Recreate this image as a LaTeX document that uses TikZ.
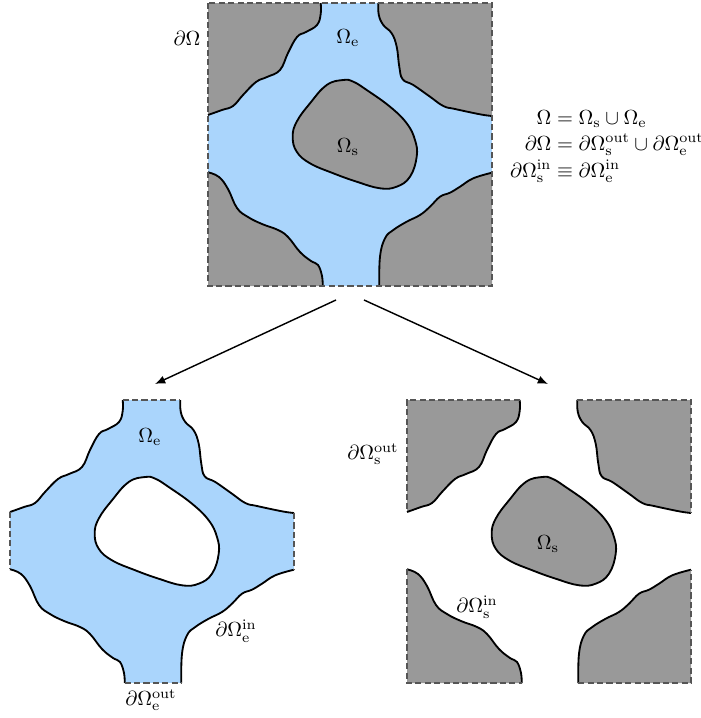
\documentclass[tikz,border=0pt]{standalone}
\usepackage{amsmath}
\usetikzlibrary{arrows.meta}
\definecolor{fluidc}{RGB}{170,213,252}
\definecolor{grainc}{RGB}{153,153,153}
\definecolor{bordc}{RGB}{85,85,85}
\newcommand\lTL{-- plot[smooth,tension=0.7] coordinates {(320.7,3) (320.7,14) (317,25) (306,32) (297,37) (288,53) (280,70) (267,77) (256,82) (243,95) (233,106) (222,110) (208,115)}}
\newcommand\lTR{-- plot[smooth,tension=0.7] coordinates {(378.3,3) (378.8,15) (383.3,25) (391.7,33.3) (396.7,46.7) (399.3,66.7) (402.7,79.3) (413.3,85) (430,96.7) (443.3,106) (455,109) (480,114.3) (492,116)}}
\newcommand\lBL{-- plot[smooth,tension=0.7] coordinates {(208,172.3) (219,177) (228,189) (237,208) (248,217) (262,224) (278,230) (288,237) (300,252) (311,261) (318,265) (322,276) (322.7,286)}}
\newcommand\lBR{-- plot[smooth,tension=0.7] coordinates {(379.3,286) (380,256.7) (385,238.3) (393.3,230) (406.7,221.7) (420,215) (430,206.7) (440,196.7) (450,192.7) (460,186.7) (473.3,178.3) (492,172.7)}}
\newcommand\lBlob{plot[smooth cycle,tension=0.7] coordinates {(343.3,80) (326.7,85) (310,103.3) (296.7,121.7) (292.7,136.7) (296.7,151.7) (310,163.3) (333.3,173.3) (356.7,181.7) (380,188.3) (396.7,186.7) (410,176.7) (416.7,156.7) (415,140) (406.7,123.3) (390,106.7) (366.7,90) (353.3,81.7)}}
\begin{document}
\begin{tikzpicture}[x=0.49pt,y=-0.49pt,
  outl/.style={line width=0.9pt,draw=black},
  bord/.style={line width=0.6pt,draw=bordc,dash pattern=on 3pt off 1.6pt},
  arr/.style={line width=0.7pt,-{Latex[length=5pt,width=4pt]}},
  lbl/.style={inner sep=0pt}]
\useasboundingbox (0,0) rectangle (701,718);
% ---------- top square ----------
\begin{scope}
  \fill[fluidc] (208,3) rectangle (492,286);
  \fill[grainc] (208,3) \lTL -- cycle;
  \fill[grainc] (492,3) \lTR -- cycle;
  \fill[grainc] (208,286) \lBL -- cycle;
  \fill[grainc] (492,286) \lBR -- cycle;
  \draw[outl] (320.7,3) \lTL; \draw[outl] (378.3,3) \lTR;
  \draw[outl] (208,172.3) \lBL; \draw[outl] (379.3,286) \lBR;
  \filldraw[fill=grainc,outl] \lBlob;
  \draw[bord] (208,3) rectangle (492,286);
\end{scope}
\node[lbl] (oe) at (348,38) {$\Omega_{\mathrm{e}}$};
\node[lbl] (os) at (348,147) {$\Omega_{\mathrm{s}}$};
\node[lbl] (dO) at (187,38) {$\partial\Omega$};
\node[lbl] (eqs) at (607,146) {$\begin{aligned}
\Omega &= \Omega_{\mathrm{s}}\cup\Omega_{\mathrm{e}}\\[-3.2pt]
\partial\Omega &= \partial\Omega_{\mathrm{s}}^{\mathrm{out}}\cup\partial\Omega_{\mathrm{e}}^{\mathrm{out}}\\[-3.2pt]
\partial\Omega_{\mathrm{s}}^{\mathrm{in}} &\equiv \partial\Omega_{\mathrm{e}}^{\mathrm{in}}
\end{aligned}$};
% ---------- arrows ----------
\coordinate (s1) at (336,300);
\coordinate (e1) at (155,384);
\coordinate (s2) at (364,300);
\coordinate (e2) at (548,384);
\draw[arr] (s1) -- (e1);
\draw[arr] (s2) -- (e2);
% ---------- bottom left: fluid domain ----------
\begin{scope}[shift={(-198,397)}]
  \fill[fluidc] (208,3) rectangle (492,286);
  \fill[white] (208,3) \lTL -- cycle;
  \fill[white] (492,3) \lTR -- cycle;
  \fill[white] (208,286) \lBL -- cycle;
  \fill[white] (492,286) \lBR -- cycle;
  \draw[outl] (320.7,3) \lTL; \draw[outl] (378.3,3) \lTR;
  \draw[outl] (208,172.3) \lBL; \draw[outl] (379.3,286) \lBR;
  \filldraw[fill=white,outl] \lBlob;
  \draw[bord] (320.7,3) -- (378.3,3);
  \draw[bord] (208,115) -- (208,172.3);
  \draw[bord] (492,116) -- (492,172.7);
  \draw[bord] (322.7,286) -- (379.3,286);
\end{scope}
\node[lbl] (oe2) at (150,437) {$\Omega_{\mathrm{e}}$};
\node[lbl] (dein) at (236,631) {$\partial\Omega_{\mathrm{e}}^{\mathrm{in}}$};
\node[lbl] (deout) at (151,700) {$\partial\Omega_{\mathrm{e}}^{\mathrm{out}}$};
% ---------- bottom right: solid domain ----------
\begin{scope}[shift={(199,397)}]
  \fill[grainc] (208,3) \lTL -- cycle;
  \fill[grainc] (492,3) \lTR -- cycle;
  \fill[grainc] (208,286) \lBL -- cycle;
  \fill[grainc] (492,286) \lBR -- cycle;
  \draw[outl] (320.7,3) \lTL; \draw[outl] (378.3,3) \lTR;
  \draw[outl] (208,172.3) \lBL; \draw[outl] (379.3,286) \lBR;
  \filldraw[fill=grainc,outl] \lBlob;
  \draw[bord] (320.7,3) -- (208,3) -- (208,115);
  \draw[bord] (378.3,3) -- (492,3) -- (492,116);
  \draw[bord] (208,172.3) -- (208,286) -- (322.7,286);
  \draw[bord] (379.3,286) -- (492,286) -- (492,172.7);
\end{scope}
\node[lbl] (os2) at (548,544) {$\Omega_{\mathrm{s}}$};
\node[lbl] (dsin) at (477,607) {$\partial\Omega_{\mathrm{s}}^{\mathrm{in}}$};
\node[lbl] (dsout) at (373,454) {$\partial\Omega_{\mathrm{s}}^{\mathrm{out}}$};
\end{tikzpicture}
\end{document}
